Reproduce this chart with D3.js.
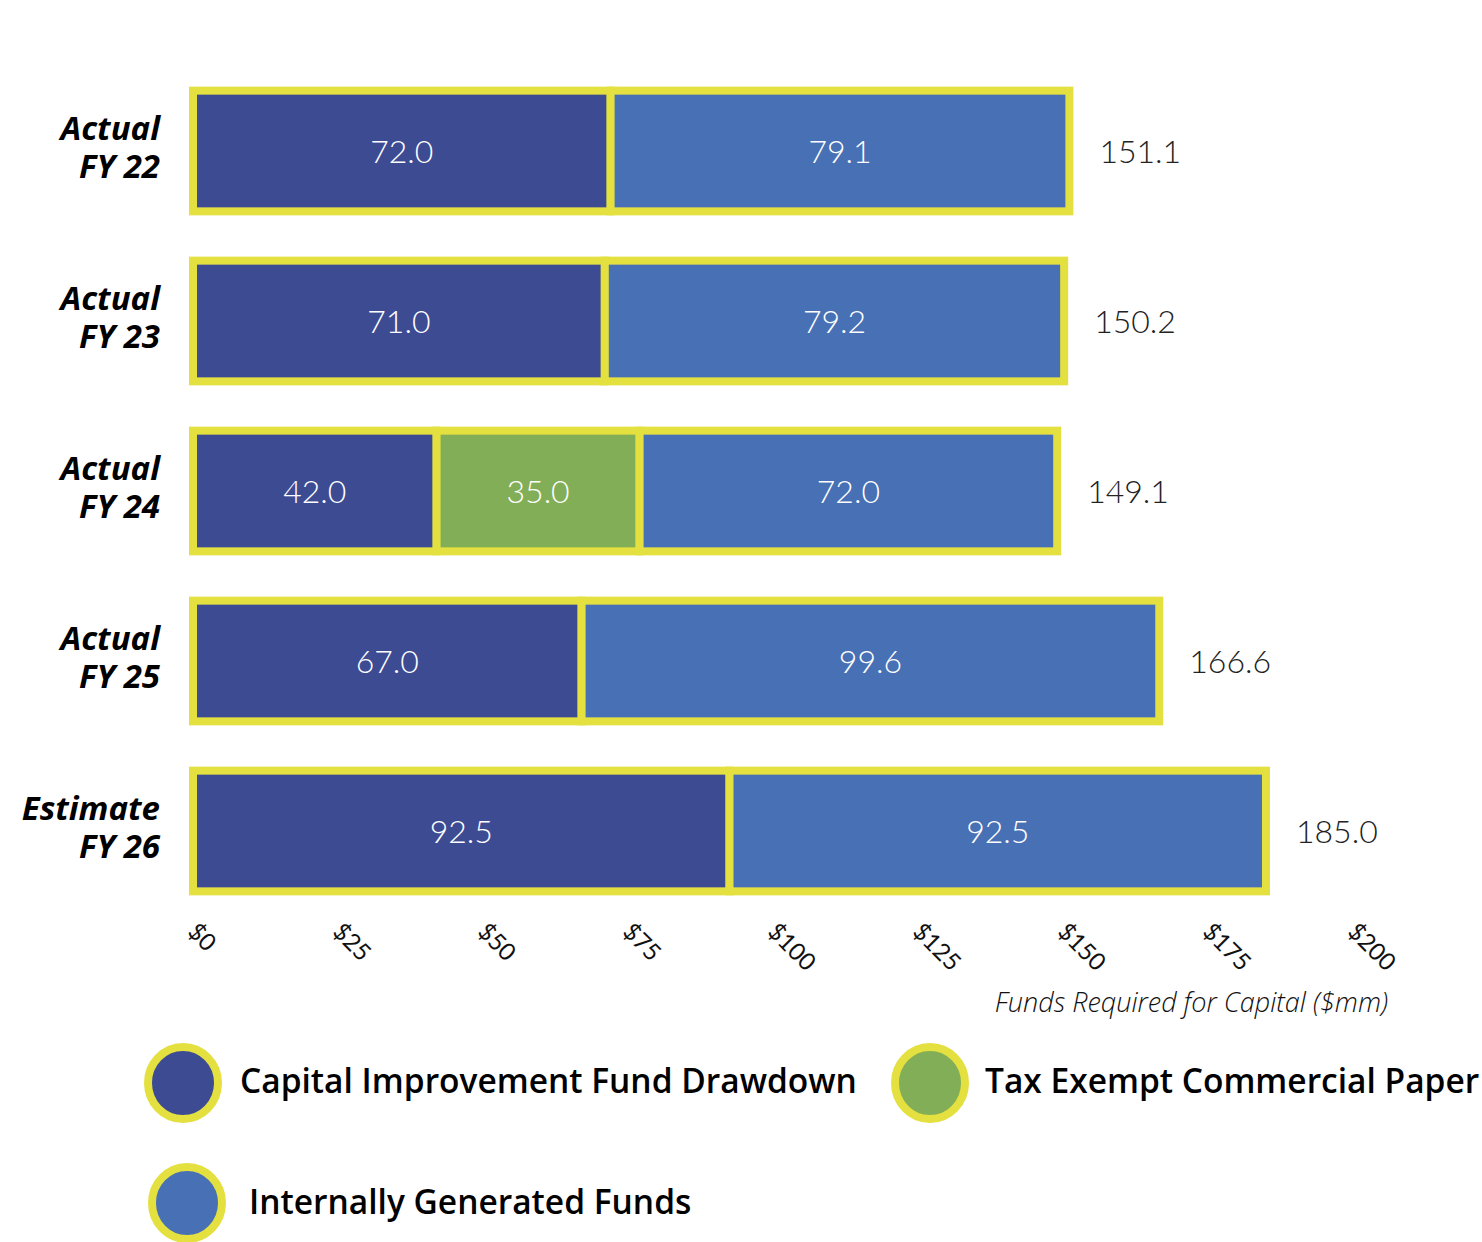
<!DOCTYPE html>
<html>
<head>
<meta charset="utf-8">
<script src="https://cdn.jsdelivr.net/npm/d3@7"></script>
<style>
  body { margin: 0; background: #fff; }
</style>
</head>
<body>
<script>
// Data
let categories = ["Actual|FY 22", "Actual|FY 23", "Actual|FY 24", "Actual|FY 25", "Estimate|FY 26"];
let seriesNames = ["Capital Improvement Fund Drawdown", "Tax Exempt Commercial Paper", "Internally Generated Funds"];
let cifDrawdown = [72.0, 71.0, 42.0, 67.0, 92.5];
let taxExemptCP = [0, 0, 35.0, 0, 0];
let internalFunds = [79.1, 79.2, 72.0, 99.6, 92.5];
let totals = [151.1, 150.2, 149.1, 166.6, 185.0];
let tickValues = [0, 25, 50, 75, 100, 125, 150, 175, 200];
let seriesColors = ["#3d4b93", "#82ae57", "#4870b4"];
let yellow = "#e3e040";

let width = 1482, height = 1242;
let lato = "Lato, sans-serif";
let openSans = "'Open Sans', sans-serif";

let svg = d3.select("body")
  .append("svg")
    .attr("width", width)
    .attr("height", height);

let x = d3.scaleLinear().domain([0, 200]).range([193, 1353]);
let y = d3.scaleBand().domain(categories).range([66, 916])
  .paddingInner(0.29).paddingOuter(0.145);

// Build the stacked table from the arrays
let table = categories.map((c, i) => ({
  cat: c,
  cif: cifDrawdown[i],
  tecp: taxExemptCP[i],
  igf: internalFunds[i]
}));
let stack = d3.stack().keys(["cif", "tecp", "igf"]);
let stacked = stack(table);

let layers = svg.selectAll(".layer")
  .data(stacked).enter().append("g")
  .attr("class", "layer")
  .attr("fill", (d, i) => seriesColors[i]);

// draw segments, yellow stroke around each one
layers.selectAll("rect")
  .data(d => d.filter(s => s[1] - s[0] > 0))
  .enter().append("rect")
    .attr("x", d => x(d[0]))
    .attr("y", d => y(d.data.cat))
    .attr("width", d => x(d[1]) - x(d[0]))
    .attr("height", y.bandwidth())
    .attr("stroke", yellow)
    .attr("stroke-width", 8);

// value labels inside segments
layers.selectAll("text")
  .data(d => d.filter(s => s[1] - s[0] > 0))
  .enter().append("text")
    .attr("x", d => (x(d[0]) + x(d[1])) / 2)
    .attr("y", d => y(d.data.cat) + y.bandwidth() / 2)
    .attr("dy", "0.36em")
    .attr("text-anchor", "middle")
    .attr("fill", "#fff")
    .style("font-family", lato)
    .attr("font-size", 32)
    .attr("font-weight", 300)
    .text(d => (d[1] - d[0]).toFixed(1));

// totals to the right
svg.selectAll(".total")
  .data(categories).enter().append("text")
    .attr("class", "total")
    .attr("x", (d, i) => x(cifDrawdown[i] + taxExemptCP[i] + internalFunds[i]) + 30)
    .attr("y", d => y(d) + y.bandwidth() / 2)
    .attr("dy", "0.36em")
    .attr("fill", "#222")
    .style("font-family", lato)
    .attr("font-size", 32)
    .attr("font-weight", 300)
    .text((d, i) => totals[i].toFixed(1));

// category labels (two lines)
let catLabels = svg.selectAll(".cat")
  .data(categories).enter().append("text")
    .attr("class", "cat")
    .attr("text-anchor", "end")
    .style("font-family", openSans)
    .attr("font-size", 33)
    .attr("font-weight", "bold")
    .attr("font-style", "italic")
    .attr("fill", "#000");
catLabels.selectAll("tspan")
  .data(d => d.split("|").map(t => ({ t: t, cat: d })))
  .enter().append("tspan")
    .attr("x", 160)
    .attr("y", (d, i) => y(d.cat) + y.bandwidth() / 2 - 11 + i * 38)
    .text(d => d.t);

// x axis, labels only, rotated
let xAxis = d3.axisBottom(x)
  .tickValues(tickValues)
  .tickSize(0)
  .tickFormat(d => "$" + d);
let gx = svg.append("g")
  .attr("transform", "translate(0,928)")
  .call(xAxis);
gx.select(".domain").remove();
gx.selectAll("text")
  .attr("font-size", 24)
  .style("font-family", lato)
  .attr("fill", "#111")
  .attr("text-anchor", "start")
  .attr("dy", "0.3em")
  .attr("transform", "translate(-2,0) rotate(45)")
  .attr("y", 0);

svg.append("text")
  .attr("x", 1388)
  .attr("y", 1012)
  .attr("text-anchor", "end")
  .style("font-family", openSans)
  .attr("font-size", 27)
  .attr("font-style", "italic")
  .attr("font-weight", 300)
  .attr("fill", "#111")
  .text("Funds Required for Capital ($mm)");

// legend
let legendPos = [
  { cx: 183, cy: 1083, tx: 240, ty: 1093 },
  { cx: 930, cy: 1083, tx: 985, ty: 1093 },
  { cx: 187, cy: 1203, tx: 249, ty: 1214 }
];
let legend = svg.selectAll(".legend")
  .data(seriesNames).enter().append("g")
  .attr("class", "legend");
legend.append("ellipse")
  .attr("cx", (d, i) => legendPos[i].cx)
  .attr("cy", (d, i) => legendPos[i].cy)
  .attr("rx", 35)
  .attr("ry", 36)
  .attr("fill", (d, i) => seriesColors[i])
  .attr("stroke", yellow)
  .attr("stroke-width", 8);
legend.append("text")
  .attr("x", (d, i) => legendPos[i].tx)
  .attr("y", (d, i) => legendPos[i].ty)
  .style("font-family", openSans)
  .attr("font-size", 33.5)
  .attr("font-weight", 600)
  .attr("fill", "#000")
  .text(d => d);
</script>
</body>
</html>
